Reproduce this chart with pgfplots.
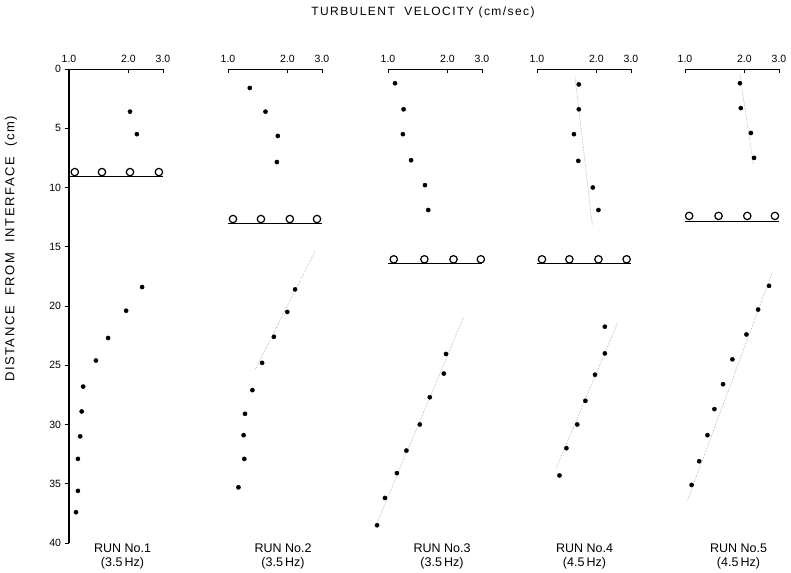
\documentclass[border=0pt]{standalone}
\usepackage{fontspec}
\setmainfont{Liberation Sans}
\newfontfamily\spaced[LetterSpace=12]{Liberation Sans}
\usepackage{pgfplots}
\pgfplotsset{compat=1.18}
\pgfplotsset{
  mypanel/.style={
    scale only axis, width=94pt, height=474pt,
    xmin=1, xmax=3, ymin=0, ymax=40, y dir=reverse,
    clip=false, anchor=south west,
    axis x line*=top,
    axis line style={-, line width=0.9pt, black},
    xtick={1,2,3}, xticklabels={1.0,2.0,3.0}, minor xtick={},
    xtick align=inside, major tick length=4.5pt,
    tick style={line width=0.9pt, black},
    xticklabel style={font=\fontsize{10.5}{12}\selectfont, yshift=3pt},
    /pgf/number format/assume math mode=true,
  },
  mydot/.style={only marks, mark=*, mark size=2.1pt, black},
  mycirc/.style={only marks, mark=o, mark size=3.7pt, line width=1.2pt, black},
  myiface/.style={line width=0.9pt, black, no marks},
  mytrend/.style={densely dotted, gray!70, line width=0.6pt, no marks},
}
\begin{document}
\begin{tikzpicture}
\useasboundingbox (0,0) rectangle (791pt,572pt);
% Panel 1
\begin{axis}[xmode=log, mypanel, at={(69pt,29pt)},
  axis y line*=left, ytick={0,5,...,40}, ytick align=outside,
  y axis line style={line width=1.4pt},
  yticklabel style={font=\fontsize{10.5}{12}\selectfont}]
\addplot[mydot] coordinates {(2.04,3.6) (2.21,5.5) (2.35,18.4) (1.95,20.4) (1.58,22.7) (1.37,24.6) (1.18,26.8) (1.16,28.9) (1.14,31.0) (1.11,32.9) (1.11,35.6) (1.085,37.4)};
\addplot[mycirc] coordinates {(1.07,8.7) (1.47,8.7) (2.04,8.7) (2.86,8.7)};
\addplot[myiface] coordinates {(1,9.1) (3,9.1)};
\end{axis}
% Panel 2
\begin{axis}[xmode=log, mypanel, axis y line=none, at={(228pt,29pt)}]
\addplot[mytrend] coordinates {(2.76,15.4) (1.37,25.4)};
\addplot[mydot] coordinates {(1.29,1.6) (1.55,3.6) (1.79,5.65) (1.77,7.85) (2.19,18.6) (2.0,20.5) (1.71,22.6) (1.49,24.8) (1.33,27.1) (1.22,29.1) (1.20,30.9) (1.21,32.9) (1.13,35.3)};
\addplot[mycirc] coordinates {(1.06,12.66) (1.47,12.66) (2.06,12.66) (2.83,12.66)};
\addplot[myiface] coordinates {(1,13.0) (3,13.0)};
\end{axis}
% Panel 3
\begin{axis}[xmode=log, mypanel, axis y line=none, at={(388pt,29pt)}]
\addplot[mytrend] coordinates {(2.41,21.0) (0.88,38.3)};
\addplot[mydot] coordinates {(1.085,1.2) (1.20,3.4) (1.19,5.5) (1.31,7.7) (1.54,9.8) (1.60,11.9) (1.97,24.05) (1.92,25.7) (1.63,27.7) (1.45,30.0) (1.24,32.2) (1.11,34.1) (0.965,36.2) (0.88,38.5)};
\addplot[mycirc] coordinates {(1.07,16.06) (1.53,16.06) (2.15,16.06) (2.96,16.06)};
\addplot[myiface] coordinates {(1,16.4) (3,16.4)};
\end{axis}
% Panel 4
\begin{axis}[xmode=log, mypanel, axis y line=none, at={(537pt,29pt)}]
\addplot[mytrend] coordinates {(2.57,21.4) (1.25,33.7)};
\addplot[mytrend] coordinates {(1.56,0.7) (1.91,13.2)};
\addplot[mydot] coordinates {(1.63,1.3) (1.63,3.4) (1.54,5.5) (1.62,7.75) (1.92,10.0) (2.05,11.9) (2.21,21.75) (2.21,24.0) (1.97,25.8) (1.76,28.0) (1.60,30.0) (1.41,32.0) (1.30,34.3)};
\addplot[mycirc] coordinates {(1.06,16.06) (1.46,16.06) (2.05,16.06) (2.85,16.06)};
\addplot[myiface] coordinates {(1,16.4) (3,16.4)};
\end{axis}
% Panel 5
\begin{axis}[xmode=log, mypanel, axis y line=none, at={(685pt,29pt)}]
\addplot[mytrend] coordinates {(2.77,17.2) (1.03,36.4)};
\addplot[mytrend] coordinates {(1.90,0.5) (2.22,8.0)};
\addplot[mydot] coordinates {(1.90,1.2) (1.92,3.3) (2.16,5.4) (2.24,7.5) (2.67,18.3) (2.35,20.3) (2.05,22.4) (1.74,24.5) (1.56,26.6) (1.41,28.7) (1.30,30.9) (1.18,33.1) (1.08,35.1)};
\addplot[mycirc] coordinates {(1.05,12.4) (1.48,12.4) (2.07,12.4) (2.86,12.4)};
\addplot[myiface] coordinates {(1,12.9) (3,12.9)};
\end{axis}
% Titles and labels
\node[font=\spaced\fontsize{12}{14}\selectfont] at (423pt,560pt) {TURBULENT\ \ VELOCITY (cm/sec)};
\node[font=\spaced\fontsize{13}{15}\selectfont, rotate=90] at (11pt,323pt) {DISTANCE\ \ FROM\ \ INTERFACE\ \ (cm)};
\foreach \xx/\run/\hz in {122.5/1/3.5, 283/2/3.5, 442/3/3.5, 584.5/4/4.5, 738.5/5/4.5} {
  \node[font=\fontsize{12.5}{14}\selectfont, align=center, inner sep=0pt] at (\xx pt, 16pt) {RUN No.\run\\(\hz\,Hz)};
}
\end{tikzpicture}
\end{document}
